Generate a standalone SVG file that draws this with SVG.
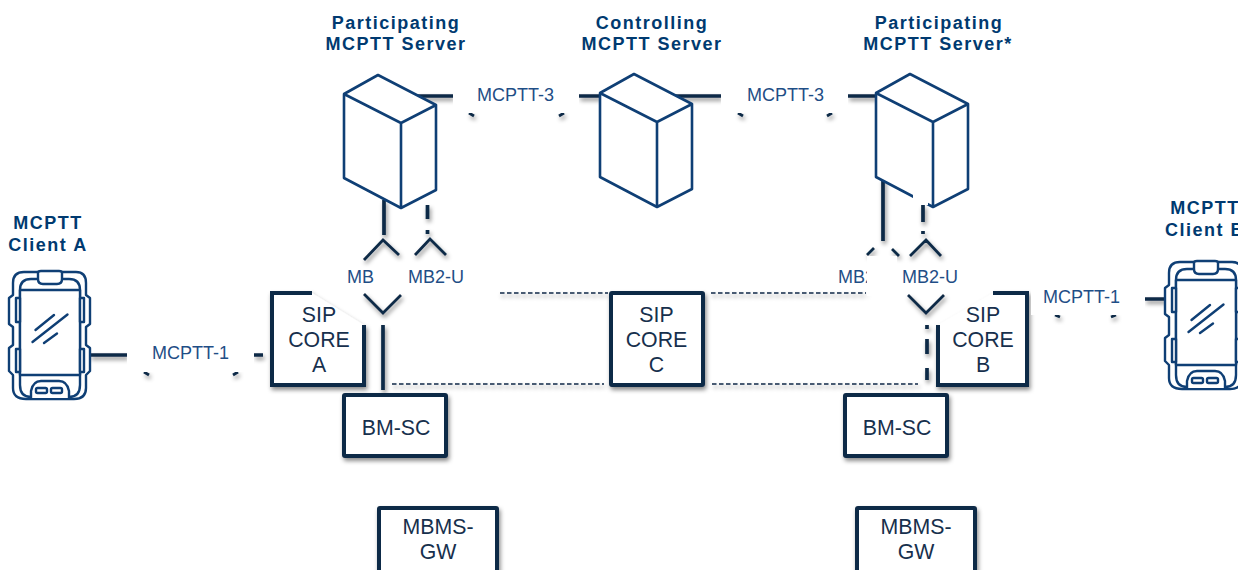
<svg xmlns="http://www.w3.org/2000/svg" xmlns:xlink="http://www.w3.org/1999/xlink" width="1238" height="570" viewBox="0 0 1238 570">
<style>
text{font-family:"Liberation Sans",Arial,sans-serif}
.title{font-size:18px;font-weight:700;fill:#003a70;letter-spacing:1.5px;text-anchor:middle}
.lbl{font-size:18px;fill:#1f4e86}
.box{font-size:21.300px;fill:#17304d;text-anchor:middle}
.line{fill:none;stroke:#0f2a47;stroke-width:3.700}
.thin{fill:none;stroke:#0f2a47;stroke-width:2.800}
.dash{fill:none;stroke:#0f2a47;stroke-width:1.400;stroke-dasharray:4.500 2.500}
.rect{fill:#fff;stroke:#0f2a47;stroke-width:4}
.srv{fill:#fff;stroke:#0f3f75;stroke-width:2.600;stroke-linejoin:round}
.ph{fill:#fff;stroke:#0f3f75;stroke-width:2.400;stroke-linejoin:round;stroke-linecap:round}
.patch{fill:#fff}
</style>
<defs>
<filter id="sh" x="-30%" y="-30%" width="170%" height="170%"><feDropShadow dx="1.500" dy="3" stdDeviation="2" flood-color="#000" flood-opacity=".45"/></filter>
<g id="server">
<path class="srv" d="M344 94L378 75L436 105L401 123ZM344 94V178L401 208V123M401 208L436 190V105"/>
</g>
<g id="phone">
<path class="ph" d="M24 272H76Q86 272 86 283V295L90 298V324L86 327V345L90 348V371L86 375V388Q86 399 74 399H26Q13 399 13 388V375L9 371V348L13 345V327L9 324V298L13 295V283Q13 272 24 272Z"/>
<path class="ph" d="M20 290Q20 279 31 279H69Q80 279 80 290V385Q80 397 69 397H31Q20 397 20 385Z"/>
<path class="ph" d="M20 290H80V375H20Z"/>
<path class="ph" d="M16 298H20V322H16ZM16 349H20V372H16ZM80 298H84V322H80ZM80 349H84V372H80Z"/>
<path class="ph" d="M38 273Q38 271 41 271H59Q62 271 62 273V279Q62 284 57 284H43Q38 284 38 279Z"/>
<path class="ph" d="M31 398V391Q33 381 41 381H59Q67 381 69 391V398"/>
<rect class="ph" x="36" y="388" width="11" height="5" rx="1.500"/>
<rect class="ph" x="51" y="388" width="11" height="5" rx="1.500"/>
<path class="ph" d="M35.500 330L54 315M32.500 342L67.500 314.500M44 343L57 333.500"/>
</g>
</defs>

<g id="connectors" filter="url(#sh)">
<path class="line" d="M90 355H127M254 355H263M417 96H453M579 96H600M676 96H721M848 96H876M1145 299H1165"/>
<path class="line" d="M384 200V235M383 325V390M883 178V241"/>
<path class="line" d="M427.500 205V219M427.500 230V234M923 205V222M923 231V234M927 325V329M927 339V354M927 368V380"/>
<path class="thin" d="M364 260L383 240L399 255M415 255L430 239L446 255M364 294L383 313L401 295M867 255L874 248M892 249L899 256M910 256L926 240L941 256M908 295L926 313L944 295"/>
<path class="thin" d="M469 113L474 116M559 116L564 113M738 113L743 116M827 116L832 113M144 372L149 375M233 375L238 372M1055 315L1060 317M1111 317L1116 315"/>
<path class="dash" d="M500 293H608M711 293H866M392 384H604M712 384H918"/>
</g>

<g id="node-sip-a"><path class="rect" filter="url(#sh)" d="M312 293H272V385H364V325"/><text class="box"><tspan x="319" y="322">SIP</tspan><tspan x="319" y="347">CORE</tspan><tspan x="319" y="372">A</tspan></text></g>
<g id="node-sip-c"><rect class="rect" filter="url(#sh)" x="611" y="293" width="92" height="92" rx="1"/><text class="box"><tspan x="656.500" y="322">SIP</tspan><tspan x="656.500" y="347">CORE</tspan><tspan x="656.500" y="372">C</tspan></text></g>
<g id="node-sip-b"><path class="rect" filter="url(#sh)" d="M993 293H1027V385H938V325"/><text class="box"><tspan x="983" y="322">SIP</tspan><tspan x="983" y="347">CORE</tspan><tspan x="983" y="372">B</tspan></text></g>
<g id="node-bmsc-a"><rect class="rect" filter="url(#sh)" x="344" y="395" width="102" height="61" rx="1"/><text class="box" x="396" y="435">BM-SC</text></g>
<g id="node-bmsc-b"><rect class="rect" filter="url(#sh)" x="845" y="395" width="102" height="61" rx="1"/><text class="box" x="897" y="435">BM-SC</text></g>
<g id="node-mbms-a"><rect class="rect" filter="url(#sh)" x="379" y="508" width="118" height="70" rx="1"/><text class="box"><tspan x="438" y="534">MBMS-</tspan><tspan x="438" y="559">GW</tspan></text></g>
<g id="node-mbms-b"><rect class="rect" filter="url(#sh)" x="857" y="508" width="118" height="70" rx="1"/><text class="box"><tspan x="916" y="534">MBMS-</tspan><tspan x="916" y="559">GW</tspan></text></g>

<g id="node-server-a"><text class="title"><tspan x="396" y="29">Participating</tspan><tspan x="396" y="50">MCPTT Server</tspan></text><use xlink:href="#server" href="#server"/></g>
<g id="node-server-c"><text class="title"><tspan x="652" y="29">Controlling</tspan><tspan x="652" y="50">MCPTT Server</tspan></text><use xlink:href="#server" href="#server" x="256" y="-1"/></g>
<g id="node-server-b"><text class="title"><tspan x="939" y="29">Participating</tspan><tspan x="938" y="50">MCPTT Server*</tspan></text><use xlink:href="#server" href="#server" x="532" y="-1"/><rect class="patch" x="913" y="193" width="15" height="12"/></g>
<g id="node-client-a"><text class="title"><tspan x="48" y="229">MCPTT</tspan><tspan x="48" y="251">Client A</tspan></text><use xlink:href="#phone" href="#phone"/></g>
<g id="node-client-b"><text class="title"><tspan x="1205" y="214">MCPTT</tspan><tspan x="1205" y="236">Client B</tspan></text><use xlink:href="#phone" href="#phone" x="1156" y="-10"/></g>

<g id="labels">
<rect class="patch" x="127" y="335" width="127" height="37"/><text class="lbl" x="152" y="359">MCPTT-1</text>
<rect class="patch" x="453" y="76" width="126" height="37"/><text class="lbl" x="477" y="101">MCPTT-3</text>
<rect class="patch" x="721" y="76" width="127" height="37"/><text class="lbl" x="747" y="101">MCPTT-3</text>
<rect class="patch" x="1031" y="280" width="114" height="35"/><text class="lbl" x="1043" y="303">MCPTT-1</text>
<text class="lbl" x="347" y="283">MB</text>
<text class="lbl" x="408" y="283">MB2-U</text>
<text class="lbl" x="838" y="283">MB2</text>
<rect class="patch" x="867" y="256" width="30" height="40"/>
<text class="lbl" x="902" y="283">MB2-U</text>
</g>
</svg>
